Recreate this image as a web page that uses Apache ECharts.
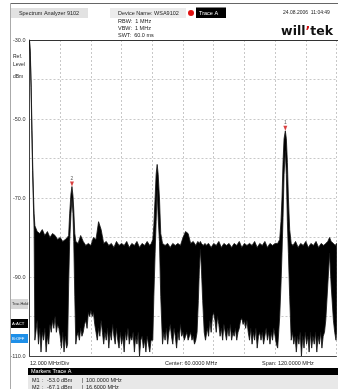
<!DOCTYPE html>
<html>
<head>
<meta charset="utf-8">
<script src="https://cdn.jsdelivr.net/npm/echarts@6/dist/echarts.min.js"></script>
<style>
  html, body { margin: 0; padding: 0; background: #fff; }
  #chart { width: 338px; height: 389px; }
</style>
</head>
<body>
<div id="chart"></div>
<script>
// max-hold trace: frequency (MHz) and level (dBm)
const maxFreq = [
  0, 0.3, 0.6, 0.9, 1.2, 1.5, 1.8, 2.1,
  3, 4, 5, 6, 7, 8, 9, 10, 11, 12, 13, 14,
  14.8, 15.3, 15.7, 16.2, 16.6, 17.0, 17.3, 17.7, 18.1,
  19, 20, 21, 22, 23, 24, 25, 26, 27, 28, 29, 30, 31, 32, 33, 34, 35, 36, 37, 38, 39, 40,
  41, 42, 43, 44, 45, 46, 47,
  47.6, 48.2, 48.6, 49.1, 49.5, 49.9, 50.3, 50.8, 51.3, 52.0,
  53, 54, 55, 56, 57, 58, 59, 60, 61, 62, 63, 64, 65,
  65.8, 66.4, 66.8, 67.2, 67.9, 68.6,
  69, 70, 71, 72, 73, 74, 75, 76, 77, 78, 79, 80, 81, 82, 83, 84, 85, 86, 87, 88, 89, 90,
  91, 92, 93, 94, 95, 96,
  97.0, 97.8, 98.3, 98.7, 99.1, 99.5, 100.0, 100.4, 100.8, 101.2, 101.7, 102.3,
  103, 104, 105, 106, 107, 108, 109, 110, 111, 112, 113, 114, 115,
  115.8, 116.6, 117.3, 117.9, 118.8, 119.5, 120
];
const traceMax = [
  -30, -33, -40, -50, -60, -68, -74, -77,
  -78.5, -79, -78, -79.5, -78.5, -80, -79, -79.5, -80.5, -80, -81, -80.5,
  -80, -79.5, -74, -69, -67.1, -69.5, -73, -79, -81,
  -81.5, -79.5, -81, -82, -81.5, -82, -80, -80.5, -76, -78, -81.5, -81, -82, -81.5, -82.5, -81, -82, -81.5, -82, -81, -82.5, -81.5,
  -82, -81, -82.5, -81.5, -82, -81, -82,
  -81.5, -80.5, -77, -70, -64, -61.5, -64, -70, -79, -81.5,
  -82, -81.5, -82.5, -81.5, -82, -81.5, -82, -80, -78.5, -79, -81.5, -81, -82,
  -81, -81.5, -81, -81.5, -82, -81.5,
  -82, -81.5, -82.5, -81.5, -82, -81, -82.5, -81.5, -82, -81.5, -82.5, -81.5, -82, -81, -82.5, -81.5, -82, -81.5, -82, -81, -82.5, -81.5,
  -82, -81, -82.5, -81.5, -82, -81.5,
  -81.5, -80.5, -76, -70, -61, -55, -53.0, -55, -61, -70, -78, -81.5,
  -82, -81, -82.5, -81.5, -82, -81, -82.5, -81.5, -82, -81, -82.5, -81.5, -82,
  -81.5, -81, -80, -81, -81.5, -82, -81.5
];

// min-hold trace: frequency (MHz) and level (dBm)
const minFreq = [
  0, 0.3, 0.6, 0.9, 1.2, 1.5, 1.8, 2.1,
  2.5, 3, 3.5, 4, 4.5, 5, 5.5, 6, 6.5, 7, 7.5, 8, 8.5, 9, 9.5, 10, 10.5, 11, 11.5, 12, 12.5, 13, 13.5, 14, 14.5,
  14.9, 15.3, 15.7, 16.2, 16.6, 17.0, 17.3, 17.7, 18.1,
  18.5, 19, 19.5, 20, 20.5, 21, 21.5, 22, 22.5, 23, 23.5, 24, 24.5, 25, 25.5, 26, 26.5, 27, 27.5, 28, 28.5, 29, 29.5, 30,
  30.5, 31, 31.5, 32, 32.5, 33, 33.5, 34, 34.5, 35, 35.5, 36, 36.5, 37, 37.5, 38, 38.5, 39, 39.5, 40,
  40.5, 41, 41.5, 42, 42.5, 43, 43.5, 44, 44.5, 45, 45.5, 46, 46.5, 47, 47.5,
  48.2, 48.6, 49.1, 49.5, 49.9, 50.3, 50.8, 51.3, 52.0,
  52.5, 53, 53.5, 54, 54.5, 55, 55.5, 56, 56.5, 57, 57.5, 58, 58.5, 59, 59.5, 60,
  60.5, 61, 61.5, 62, 62.5, 63, 63.5, 64, 64.5, 65,
  65.5, 66, 66.4, 66.8, 67.2, 67.7, 68.3, 68.8,
  69.5, 70, 70.5, 71, 71.5, 72, 72.5, 73, 73.5, 74, 74.5, 75, 75.5, 76, 76.5, 77, 77.5, 78, 78.5, 79, 79.5, 80,
  80.5, 81, 81.5, 82, 82.5, 83, 83.5, 84, 84.5, 85, 85.5, 86, 86.5, 87, 87.5, 88, 88.5, 89, 89.5, 90,
  90.5, 91, 91.5, 92, 92.5, 93, 93.5, 94, 94.5, 95, 95.5, 96, 96.5,
  97.0, 97.8, 98.3, 98.7, 99.1, 99.5, 100.0, 100.4, 100.8, 101.2, 101.7, 102.3,
  102.8, 103.3, 103.8, 104.3, 104.8, 105.3, 105.8, 106.3, 106.8, 107.3, 107.8, 108.3, 108.8, 109.3, 109.8,
  110.3, 110.8, 111.3, 111.8, 112.3, 112.8, 113.3, 113.8, 114.3, 114.8, 115.3,
  115.8, 116.6, 117.3, 117.9, 118.8, 119.3, 119.8, 120
];
const traceMin = [
  -30.5, -34, -42, -53, -63, -71, -78, -106,
  -104, -101, -107, -103, -109, -104, -106, -103, -109, -105, -107, -102, -104, -101, -103, -100, -104, -102, -103, -105, -108, -104, -109, -105, -108,
  -107, -92, -81, -74, -70, -74, -81, -95, -107,
  -105, -104, -106, -103, -105, -104, -102, -101, -103, -99, -100, -98.5, -100, -99, -102, -104, -106, -103, -105, -101, -104, -107, -104, -106,
  -103, -108, -104, -106, -102, -105, -107, -103, -106, -108, -104, -107, -105, -109, -104, -106, -103, -107, -105, -106,
  -104, -109, -105, -107, -104, -110, -106, -105, -108, -106, -109, -105, -107, -109, -106,
  -106, -95, -84, -76, -68, -75, -81, -95, -107,
  -104, -106, -103, -107, -104, -102, -105, -107, -103, -105, -108, -104, -106, -102, -105, -104,
  -106, -105, -104, -106, -105, -104, -106, -105, -107, -106,
  -104, -96, -88, -83, -88, -96, -104, -106,
  -103, -105, -101, -104, -100, -99, -101, -104, -100, -102, -105, -103, -106, -102, -104, -106, -103, -105, -102, -106, -104, -105,
  -103, -106, -104, -103, -101, -100.5, -102, -101, -103, -101, -104, -106, -103, -107, -104, -106, -103, -108, -105, -104,
  -106, -104, -107, -105, -103, -106, -104, -107, -104, -106, -103, -105, -107,
  -108, -100, -92, -84, -75, -64, -58, -64, -76, -84, -95, -106,
  -104, -107, -105, -109, -105, -107, -104, -110, -105, -108, -104, -107, -105, -109, -104,
  -108, -105, -107, -104, -109, -105, -107, -104, -108, -105, -104,
  -101, -92, -84, -92, -101, -104, -106, -104
];

// markers
const markerNames = ['1', '2'];
const markerFreq = [100.0, 16.6];
const markerLevel = [-53.0, -67.1];

// axis ticks
const yTicks = [-30, -50, -70, -90, -110];

const FONT = '"Liberation Sans", Arial, sans-serif';

function txt(text, x, y, opts) {
  opts = opts || {};
  return {
    type: 'text', z: 10,
    style: {
      text: text, x: x, y: y,
      fill: opts.fill || '#222',
      font: (opts.weight || 'normal') + ' ' + (opts.size || 5.5) + 'px ' + FONT,
      align: opts.align || 'left',
      verticalAlign: 'middle'
    }
  };
}
function rect(x, y, w, h, fill) {
  return { type: 'rect', z: 5, shape: { x: x, y: y, width: w, height: h }, style: { fill: fill } };
}

const chart = echarts.init(document.getElementById('chart'), null, { renderer: 'canvas' });

const option = {
  animation: false,
  backgroundColor: '#fff',
  grid: { left: 29.5, top: 40, width: 307, height: 316 },
  xAxis: {
    type: 'value', min: 0, max: 120, interval: 12,
    axisLine: { show: true, lineStyle: { color: '#444', width: 1 } },
    axisTick: { show: false },
    axisLabel: { show: false },
    splitLine: { show: true, lineStyle: { color: '#c8c8c8', type: [2, 2], width: 1 } }
  },
  yAxis: {
    type: 'value', min: -110, max: -30, interval: 10,
    axisLine: { show: true, lineStyle: { color: '#444', width: 1 } },
    axisTick: { show: false },
    axisLabel: {
      show: true, margin: 4, color: '#333', fontSize: 5.5, fontFamily: FONT,
      formatter: v => yTicks.indexOf(v) >= 0 ? v.toFixed(1) : ''
    },
    splitLine: { show: true, lineStyle: { color: '#c8c8c8', type: [2, 2], width: 1 } }
  },
  series: [
    {
      type: 'custom',
      silent: true,
      clip: true,
      data: [[0, 0]],
      renderItem: function (params, api) {
        const pts = [];
        for (let i = 0; i < maxFreq.length; i++) pts.push(api.coord([maxFreq[i], traceMax[i]]));
        for (let i = minFreq.length - 1; i >= 0; i--) pts.push(api.coord([minFreq[i], traceMin[i]]));
        return {
          type: 'polygon',
          shape: { points: pts },
          style: { fill: '#000', stroke: '#111', lineWidth: 0.8 }
        };
      }
    },
    {
      type: 'scatter',
      silent: true,
      symbol: 'triangle',
      symbolRotate: 180,
      symbolSize: [4, 5],
      symbolOffset: [0, -2.5],
      itemStyle: { color: '#d01010' },
      label: {
        show: true, position: 'top', distance: 0.5,
        fontSize: 5, color: '#333', fontFamily: FONT,
        formatter: p => markerNames[p.dataIndex]
      },
      data: markerFreq.map((f, i) => [f, markerLevel[i]]),
      z: 5
    }
  ],
  graphic: [
    // frame
    { type: 'line', z: 4, shape: { x1: 10, y1: 3.5, x2: 338, y2: 3.5 }, style: { stroke: '#666', lineWidth: 1 } },
    { type: 'line', z: 4, shape: { x1: 10.5, y1: 3, x2: 10.5, y2: 389 }, style: { stroke: '#aaa', lineWidth: 1 } },
    { type: 'line', z: 4, shape: { x1: 29.5, y1: 40.5, x2: 338, y2: 40.5 }, style: { stroke: '#333', lineWidth: 1 } },
    // header
    rect(11, 8, 77, 10, '#e2e2e2'),
    txt('Spectrum Analyzer 9102', 49, 13, { align: 'center', size: 5.5 }),
    rect(110, 8, 76, 10, '#ececec'),
    txt('Device Name: WSA9102', 118, 13, { size: 5.5 }),
    { type: 'circle', z: 6, shape: { cx: 191, cy: 13, r: 3 }, style: { fill: '#e01010' } },
    rect(196, 7.5, 30, 10.5, '#000'),
    txt('Trace A', 199, 13, { fill: '#fff', size: 5.5 }),
    txt('24.08.2006  11:04:49', 283, 13, { size: 5 }),
    txt('RBW:  1 MHz', 118, 21.5, { size: 5.5 }),
    txt('VBW:  1 MHz', 118, 28.5, { size: 5.5 }),
    txt('SWT:  60.0 ms', 118, 35.5, { size: 5.5 }),
    {
      type: 'text', z: 10,
      style: {
        text: '{a|will}{b|\u2019}{a|tek}', x: 333, y: 32, align: 'right', verticalAlign: 'middle',
        rich: {
          a: { font: 'bold 12.5px "DejaVu Sans", sans-serif', fill: '#111' },
          b: { font: 'bold 12.5px "DejaVu Sans", sans-serif', fill: '#d01010' }
        }
      }
    },
    // left labels
    txt('Ref.', 13, 57, { size: 5 }),
    txt('Level', 13, 65, { size: 5 }),
    txt('dBm', 13, 77, { size: 5 }),
    // side buttons
    rect(11, 299, 17, 10, '#d6d6d6'),
    txt('Trac.Hold', 12, 304, { size: 3.8 }),
    rect(11, 319, 17, 9, '#000'),
    txt('A:ACT', 12, 323.5, { fill: '#fff', size: 4.2 }),
    rect(11, 334, 17, 9, '#1e8fe8'),
    txt('B:OFF', 12, 338.5, { fill: '#fff', size: 4.2 }),
    // bottom axis info
    txt('12.000 MHz/Div', 30, 363.5, { size: 5.5 }),
    txt('Center: 60.0000 MHz', 165, 363.5, { size: 5.5 }),
    txt('Span: 120.0000 MHz', 262, 363.5, { size: 5.5 }),
    // markers table
    rect(28, 368, 310, 7, '#000'),
    txt('Markers Trace A', 31, 371.5, { fill: '#fff', size: 5.5 }),
    rect(28, 375, 310, 14, '#e8e8e8'),
    txt('M1', 32, 380.5, { size: 5.5 }),
    txt(':', 42, 380.5, { size: 5.5 }),
    txt('-53.0 dBm', 47, 380.5, { size: 5.5 }),
    txt('|', 82, 380.5, { size: 5.5 }),
    txt('100.0000 MHz', 86, 380.5, { size: 5.5 }),
    txt('M2', 32, 387, { size: 5.5 }),
    txt(':', 42, 387, { size: 5.5 }),
    txt('-67.1 dBm', 47, 387, { size: 5.5 }),
    txt('|', 82, 387, { size: 5.5 }),
    txt('16.6000 MHz', 86, 387, { size: 5.5 })
  ]
};

chart.setOption(option);
</script>
</body>
</html>
